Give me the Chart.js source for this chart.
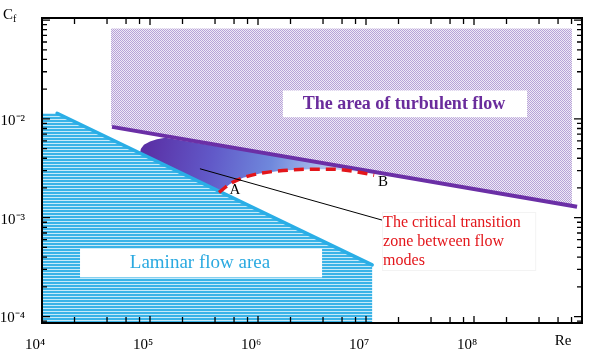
<!DOCTYPE html>
<html>
<head>
<meta charset="utf-8">
<script src="https://cdn.jsdelivr.net/npm/chart.js@4.4.1/dist/chart.umd.min.js"></script>
<style>
  html, body { margin: 0; padding: 0; background: #fff; }
</style>
</head>
<body>
<canvas id="chart" width="596" height="350"></canvas>
<script>
// ---- data (Re on x, Cf on y, both log) ----
const reDecades = [1e4, 1e5, 1e6, 1e7, 1e8, 1e9];
const cfDecades = [1e-4, 1e-3, 1e-2];

// turbulent boundary (purple) and laminar boundary (cyan)
const turbulentLineRe = [4.45e4, 9.0e8];
const turbulentLineCf = [8.3e-3, 1.29e-3];
const laminarLineRe = [1.38e4, 1.14e7];
const laminarLineCf = [1.14e-2, 3.33e-4];

// critical curve A -> B (red dashed)
const criticalRe = [4.35e5, 5.51e5, 7.27e5, 1.04e6, 1.70e6, 3.03e6, 4.94e6, 7.9e6, 1.19e7];
const criticalCf = [1.80e-3, 2.20e-3, 2.54e-3, 2.81e-3, 3.00e-3, 3.10e-3, 3.10e-3, 2.93e-3, 2.69e-3];

// hatched areas
const turbulentAreaRe = [4.36e4, 8.07e8, 8.07e8, 4.36e4];
const turbulentAreaCf = [8.2e-2, 8.2e-2, 1.32e-3, 8.4e-3];
const laminarAreaRe = [1e4, 1.38e4, 1.14e7, 1.14e7, 1e4];
const laminarAreaCf = [1.15e-2, 1.14e-2, 3.33e-4, 8.6e-5, 8.6e-5];

// shaded transition zone (blob between the two boundaries)
const transitionRe = [8.07e4, 8.24e4, 8.79e4, 1.0e5, 1.16e5, 1.38e5, 1.19e7, 1.19e7,
  7.9e6, 4.94e6, 3.03e6, 1.70e6, 1.04e6, 7.27e5, 5.51e5, 4.35e5];
const transitionCf = [4.48e-3, 5.0e-3, 5.46e-3, 5.9e-3, 6.24e-3, 6.46e-3, 2.92e-3, 2.69e-3,
  2.93e-3, 3.10e-3, 3.10e-3, 3.00e-3, 2.81e-3, 2.54e-3, 2.20e-3, 1.80e-3];

// leader line to the red note
const leaderRe = [2.9e5, 1.41e7];
const leaderCf = [3.13e-3, 9.46e-4];

const SERIF = '"Liberation Serif", "Times New Roman", serif';

// label boxes / texts, placed in data coords
const boxes = [
  { re: [1.70e6, 3.1e8], cf: [1.94e-2, 1.04e-2], fill: '#fff' },
  { re: [2.25e4, 3.92e6], cf: [4.85e-4, 2.49e-4], fill: '#fff' },
  { re: [1.40e7, 3.67e8], cf: [1.13e-3, 2.92e-4], edge: '#f3f3f3' }
];
const texts = [
  { t: 'The area of turbulent flow', re: 2.25e7, cf: 1.42e-2, font: 'bold 18px ' + SERIF, color: '#6a2c9c', align: 'center' },
  { t: 'Laminar flow area', re: 2.9e5, cf: 3.48e-4, font: '19px ' + SERIF, color: '#2aa9e0', align: 'center' },
  { t: 'A', re: 6.1e5, cf: 1.92e-3, font: '15px ' + SERIF, color: '#000', align: 'center' },
  { t: 'B', re: 1.44e7, cf: 2.30e-3, font: '15px ' + SERIF, color: '#000', align: 'center' },
  { t: 'The critical transition', re: 1.44e7, cf: 8.85e-4, font: '16px ' + SERIF, color: '#e3161b', align: 'left' },
  { t: 'zone between flow', re: 1.44e7, cf: 8.85e-4, dy: 19, font: '16px ' + SERIF, color: '#e3161b', align: 'left' },
  { t: 'modes', re: 1.44e7, cf: 8.85e-4, dy: 38, font: '16px ' + SERIF, color: '#e3161b', align: 'left' }
];

function pts(xs, ys) { return xs.map((v, i) => ({ x: v, y: ys[i] })); }

const SUP = { '0': '⁰', '1': '¹', '2': '²', '3': '³', '4': '⁴', '5': '⁵', '6': '⁶', '7': '⁷', '8': '⁸', '9': '⁹', '-': '⁻' };
function powLabel(v) {
  const e = Math.round(Math.log10(v));
  return '10' + String(e).split('').map(c => SUP[c]).join('');
}

const canvas = document.getElementById('chart');
const c2d = canvas.getContext('2d');

function makePattern(w, h, draw) {
  const p = document.createElement('canvas');
  p.width = w; p.height = h;
  draw(p.getContext('2d'));
  return c2d.createPattern(p, 'repeat');
}
const cyanStripes = makePattern(1, 3, g => {
  g.fillStyle = '#c6eaf9'; g.fillRect(0, 0, 1, 3);
  g.fillStyle = '#3ab3e7'; g.fillRect(0, 0, 1, 2);
});
const purpleDots = makePattern(2, 2, g => {
  g.fillStyle = '#efe9f6'; g.fillRect(0, 0, 2, 2);
  g.fillStyle = '#b7a3d8'; g.fillRect(0, 0, 1, 1); g.fillRect(1, 1, 1, 1);
});

function transitionGradient(context) {
  const chart = context.chart;
  const { x, y } = chart.scales;
  if (!chart.chartArea || !x || !y) return '#6a80d8';
  const g = chart.ctx.createLinearGradient(
    x.getPixelForValue(9e4), y.getPixelForValue(7e-3),
    x.getPixelForValue(1.2e7), y.getPixelForValue(2.2e-3));
  g.addColorStop(0, '#5a2ea4');
  g.addColorStop(0.3, '#6159c8');
  g.addColorStop(0.55, '#6f88dc');
  g.addColorStop(0.8, '#b4c7ef');
  g.addColorStop(1, '#ffffff');
  return g;
}

const annotate = {
  id: 'annotate',
  afterDatasetsDraw(chart) {
    const { ctx, chartArea: a, scales: { x, y } } = chart;
    const px = v => x.getPixelForValue(v);
    const py = v => y.getPixelForValue(v);
    ctx.save();

    boxes.forEach(b => {
      const l = px(b.re[0]), r = px(b.re[1]), t = py(b.cf[0]), bt = py(b.cf[1]);
      if (b.fill) { ctx.fillStyle = b.fill; ctx.fillRect(l, t, r - l, bt - t); }
      if (b.edge) { ctx.strokeStyle = b.edge; ctx.lineWidth = 1; ctx.strokeRect(Math.round(l) + 0.5, Math.round(t) + 0.5, r - l, bt - t); }
    });

    ctx.textBaseline = 'middle';
    texts.forEach(s => {
      ctx.font = s.font;
      ctx.fillStyle = s.color;
      ctx.textAlign = s.align;
      ctx.fillText(s.t, px(s.re), py(s.cf) + (s.dy || 0));
    });

    // frame
    ctx.strokeStyle = '#000';
    ctx.lineWidth = 2;
    ctx.strokeRect(a.left, a.top, a.right - a.left, a.bottom - a.top);

    // inward tick marks
    ctx.lineWidth = 1.3;
    ctx.beginPath();
    for (let e = 4; e <= 8; e++) {
      [1, 2, 4, 6, 8].forEach(m => {
        const p = px(m * Math.pow(10, e));
        const len = m === 1 ? 7 : 6;
        ctx.moveTo(p, a.bottom); ctx.lineTo(p, a.bottom - len);
        ctx.moveTo(p, a.top); ctx.lineTo(p, a.top + len);
      });
    }
    for (let e = -5; e <= -1; e++) {
      for (let m = 1; m <= 9; m++) {
        const v = m * Math.pow(10, e);
        if (v < y.min || v > y.max) continue;
        const p = py(v);
        const len = m === 1 ? 8 : 5;
        ctx.moveTo(a.left, p); ctx.lineTo(a.left + len, p);
        ctx.moveTo(a.right, p); ctx.lineTo(a.right - len, p);
      }
    }
    ctx.stroke();

    // axis titles
    ctx.fillStyle = '#000';
    ctx.textBaseline = 'alphabetic';
    ctx.textAlign = 'left';
    ctx.font = '15px ' + SERIF;
    ctx.fillText('C', 3, 19);
    ctx.font = '10px ' + SERIF;
    ctx.fillText('f', 13, 22);
    ctx.textAlign = 'center';
    ctx.font = '15px ' + SERIF;
    ctx.fillText('Re', 563, 345);
    ctx.restore();
  }
};

const noFill = { pointRadius: 0, tension: 0 };

new Chart(canvas, {
  type: 'line',
  data: {
    datasets: [
      // listed top-most first
      { data: pts(leaderRe, leaderCf), borderColor: '#000', borderWidth: 1, fill: false, ...noFill },
      { data: pts(criticalRe, criticalCf), borderColor: '#e3161b', borderWidth: 3.5, borderDash: [10, 6],
        cubicInterpolationMode: 'monotone', fill: false, pointRadius: 0 },
      { data: pts(turbulentLineRe, turbulentLineCf), borderColor: '#6b2fa6', borderWidth: 4, fill: false, ...noFill },
      { data: pts(laminarLineRe, laminarLineCf), borderColor: '#2aaee6', borderWidth: 3.5, borderCapStyle: 'round', fill: false, ...noFill },
      { data: pts(transitionRe, transitionCf), borderWidth: 0, borderColor: 'rgba(0,0,0,0)',
        backgroundColor: transitionGradient, fill: 'shape', ...noFill },
      { data: pts(turbulentAreaRe, turbulentAreaCf), borderWidth: 0, borderColor: 'rgba(0,0,0,0)',
        backgroundColor: purpleDots, fill: 'shape', ...noFill },
      { data: pts(laminarAreaRe, laminarAreaCf), borderWidth: 0, borderColor: 'rgba(0,0,0,0)',
        backgroundColor: cyanStripes, fill: 'shape', ...noFill }
    ]
  },
  options: {
    responsive: false,
    devicePixelRatio: 1,
    animation: false,
    events: [],
    layout: { padding: { top: 3, right: 14, left: 0, bottom: 0 } },
    plugins: { legend: { display: false }, tooltip: { enabled: false } },
    scales: {
      x: {
        type: 'logarithmic',
        min: 1e4, max: 1e9,
        grid: { display: false },
        border: { display: false },
        afterBuildTicks: s => { s.ticks = reDecades.map(v => ({ value: v })); },
        afterFit: s => { s.height = 27; },
        ticks: {
          font: { family: SERIF, size: 15 }, color: '#000', padding: 5, labelOffset: -7,
          maxRotation: 0, autoSkip: false,
          callback: v => (v >= 1e9 ? '' : powLabel(v))
        }
      },
      y: {
        type: 'logarithmic',
        min: 8.6e-5, max: 0.105,
        grid: { display: false },
        border: { display: false },
        afterBuildTicks: s => { s.ticks = cfDecades.map(v => ({ value: v })); },
        afterFit: s => { s.width = 42; },
        ticks: {
          font: { family: SERIF, size: 15 }, color: '#000', padding: 9, labelOffset: 2,
          autoSkip: false,
          callback: v => powLabel(v)
        }
      }
    }
  },
  plugins: [annotate]
});
</script>
</body>
</html>
